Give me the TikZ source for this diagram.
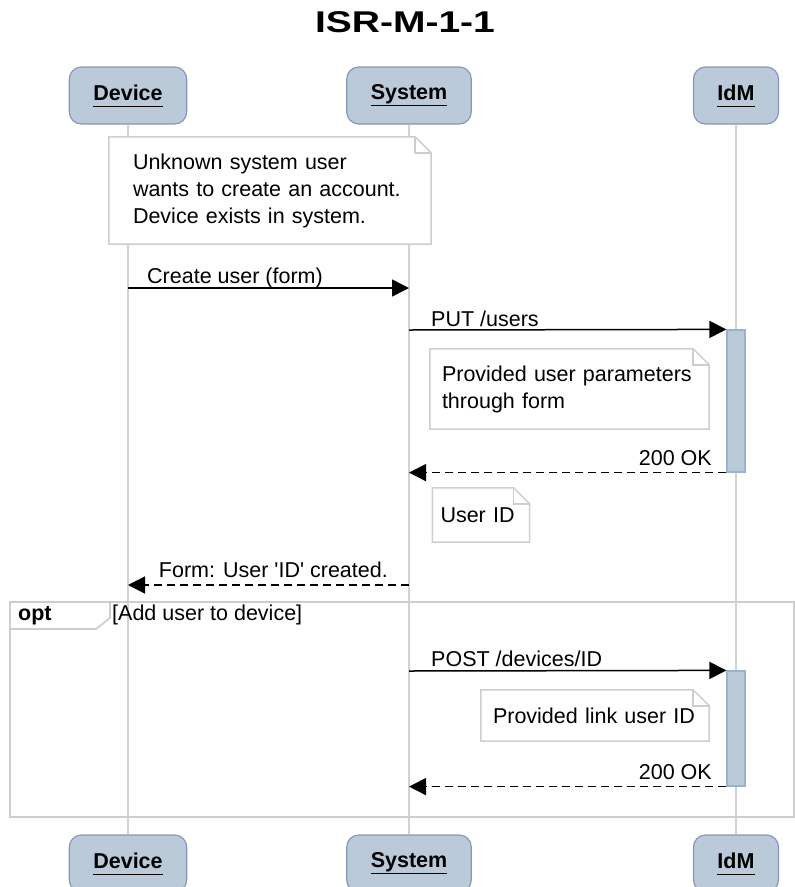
\documentclass[tikz,border=0pt]{standalone}
\usepackage{fontspec}
\setmainfont{Liberation Sans}
\newfontfamily\titlefont[FakeStretch=1.3]{Liberation Sans}
\usepackage{xcolor}
\usepackage{tikz}
\usetikzlibrary{arrows.meta}

\definecolor{partfill}{RGB}{186,202,216}
\definecolor{partline}{RGB}{132,152,186}
\definecolor{actline}{RGB}{150,180,205}
\definecolor{lifegray}{RGB}{210,210,210}
\definecolor{notegray}{RGB}{206,206,206}

\newcommand{\ulabel}[1]{\underline{\vphantom{y}#1}}

\begin{document}
\begin{tikzpicture}[x=1pt, y=-1pt,
    >={Triangle[length=17pt,width=17pt]},
    part/.style = {rectangle, rounded corners=12pt, draw=partline, line width=1.2pt,
                   fill=partfill, minimum height=57pt, inner xsep=24pt,
                   font=\fontsize{21.5}{26}\selectfont\bfseries},
    life/.style = {draw=lifegray, line width=1.8pt},
    note/.style = {rectangle, fill=white, align=left, inner xsep=12pt, inner ysep=0pt,
                   font=\fontsize{21.5}{27}\selectfont},
    notebdr/.style = {draw=notegray, line width=1.5pt},
    act/.style = {rectangle, draw=actline, line width=1.2pt, fill=partfill,
                  minimum width=18pt, inner sep=0pt},
    msg/.style = {->, line width=1.5pt},
    reply/.style = {msg, dash pattern=on 8pt off 5pt},
    lbl/.style = {inner sep=0pt, font=\fontsize{21.5}{26}\selectfont},
    frm/.style = {draw=notegray, line width=1.8pt}]
  \useasboundingbox (0,0) rectangle (795,887);

  \node (title) at (405,22.5) {\titlefont\bfseries\fontsize{30}{30}\selectfont ISR-M-1-1};

  \node (devT) [part] at (128,95.5) {\ulabel{Device}};
  \node (sysT) [part] at (409,95.5) {\ulabel{System}};
  \node (idmT) [part] at (736,95.5) {\ulabel{IdM}};
  \node (devB) [part] at (128,863.5) {\ulabel{Device}};
  \node (sysB) [part] at (409,863.5) {\ulabel{System}};
  \node (idmB) [part] at (736,863.5) {\ulabel{IdM}};

  \path[life]
    (devT) edge (devB)
    (sysT) edge (sysB)
    (idmT) edge (idmB);

  % opt fragment
  \draw[frm] (10,602) rectangle (794,817);
  \draw[frm] (10,629) -- (96,629) -- (110,618) -- (110,602);
  \node (optKw) [lbl, anchor=base west, font=\fontsize{21.5}{26}\selectfont\bfseries] at (18,620) {opt};
  \node (optGuard) [lbl, anchor=base west] at (112,620) {[Add user to device]};

  % notes
  \node (nInit) [note, inner xsep=24pt, text width=274pt, minimum height=107pt] at (270,190.5)
    {Unknown system user\\wants to create an account.\\Device exists in system.};
  \node (nParams) [note, text width=255pt, minimum height=80pt] at (569.5,389)
    {Provided user parameters\\through form};
  \node (nUid) [note, inner xsep=8pt, text width=81pt, minimum height=54pt] at (481,515) {User ID};
  \node (nLink) [note, text width=204pt, minimum height=51pt] at (595,715.5) {Provided link user ID};

  \foreach \n in {nInit,nParams,nUid,nLink} {
    \fill[white] ([xshift=-16pt]\n.north east) -- (\n.north east) -- ([yshift=-16pt]\n.north east) -- cycle;
    \draw[notebdr] (\n.south west) -- (\n.north west) -- ([xshift=-16pt]\n.north east)
      -- ([yshift=-16pt]\n.north east) -- (\n.south east) -- cycle;
    \draw[notebdr] ([xshift=-16pt]\n.north east) |- ([yshift=-16pt]\n.north east);
  }

  % activations on IdM
  \node (act1) [act, minimum height=142pt] at (736,401) {};
  \node (act2) [act, minimum height=115pt] at (736,728.5) {};

  % messages
  \draw[msg] (devT |- 0,288) -- (sysT |- 0,288);
  \node (mCreate) [lbl, anchor=base west] at (147,283) {Create user (form)};

  \draw[msg] (sysT |- 0,330) -- (act1.north west);
  \node (mPut) [lbl, anchor=base west] at (431,326) {PUT /users};

  \draw[reply] (act1.south west) -- (sysT |- act1.south west);
  \node (mOk1) [lbl, anchor=base east] at (712,465) {200 OK};

  \draw[reply] (sysT |- 0,585) -- (devT |- 0,585);
  \node (mForm) [lbl, anchor=base east] at (388,577) {Form: User \textquotesingle ID\textquotesingle{} created.};

  \draw[msg] (sysT |- 0,671) -- (act2.north west);
  \node (mPost) [lbl, anchor=base west] at (431,666) {POST /devices/ID};

  \draw[reply] (act2.south west) -- (sysT |- act2.south west);
  \node (mOk2) [lbl, anchor=base east] at (712,779) {200 OK};
\end{tikzpicture}
\end{document}
